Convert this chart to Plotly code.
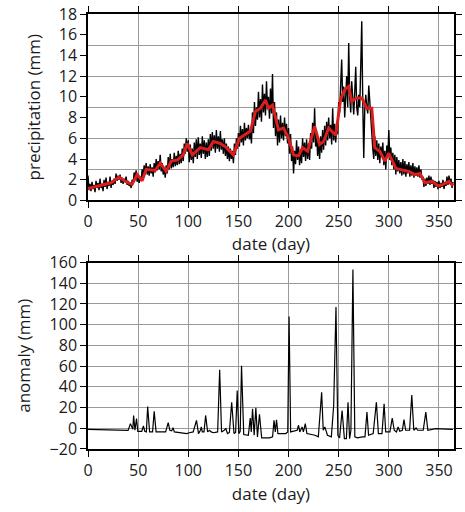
import plotly.graph_objects as go

# ---------------- data ----------------
# daily precipitation (mm), day 0..364
precip = [
    2.4, 1.0, 1.6, 0.9, 1.8, 1.1, 1.5, 0.8, 1.9, 1.2,
    1.7, 1.0, 2.1, 1.2, 1.6, 0.9, 2.0, 1.3, 2.2, 1.1,
    1.8, 1.4, 2.3, 1.2, 1.9, 1.5, 2.1, 1.6, 2.6, 1.9,
    2.4, 2.0, 2.5, 1.7, 2.2, 1.6, 2.1, 1.8, 2.3, 1.5,
    1.9, 1.4, 1.7, 1.2, 2.0, 1.6, 2.7, 2.1, 2.9, 1.8,
    2.5, 1.7, 2.3, 1.9, 3.0, 2.3, 3.4, 2.6, 3.6, 2.5,
    3.3, 2.4, 3.5, 2.6, 3.2, 2.3, 3.6, 2.7, 4.0, 2.9,
    3.8, 3.0, 4.4, 2.8, 3.6, 2.5, 3.2, 2.2, 3.4, 2.6,
    4.2, 3.0, 4.5, 3.1, 4.0, 3.2, 4.6, 3.3, 4.3, 3.4,
    4.8, 3.5, 4.5, 3.6, 5.0, 3.8, 5.5, 4.5, 6.0, 4.7,
    5.8, 3.7, 5.4, 3.9, 5.0, 3.6, 5.6, 4.2, 5.9, 4.0,
    6.1, 4.4, 5.5, 4.1, 6.2, 4.5, 5.8, 4.0, 5.6, 4.2,
    5.9, 4.3, 6.4, 4.8, 6.6, 5.0, 6.3, 4.6, 6.8, 5.0,
    6.2, 4.7, 6.7, 4.9, 5.9, 4.5, 6.0, 4.3, 5.5, 4.0,
    5.2, 3.8, 5.0, 4.0, 4.8, 3.6, 5.5, 4.4, 6.0, 5.0,
    6.5, 5.2, 7.2, 5.6, 6.9, 5.3, 7.5, 5.8, 7.0, 6.0,
    7.3, 5.9, 6.8, 5.5, 8.5, 6.5, 9.5, 7.2, 9.0, 7.8,
    10.5, 8.0, 9.8, 7.6, 11.2, 8.5, 10.3, 8.2, 11.5, 8.8,
    10.0, 7.9, 10.8, 8.4, 12.2, 7.0, 9.5, 6.2, 8.5, 5.3,
    7.8, 5.6, 8.2, 6.0, 7.5, 5.8, 8.0, 6.2, 7.4, 5.5,
    7.0, 4.5, 6.4, 3.8, 5.2, 2.6, 4.8, 3.5, 5.8, 3.9,
    5.2, 3.4, 4.9, 3.6, 6.0, 4.2, 5.6, 3.8, 5.9, 4.0,
    5.5, 3.9, 6.5, 5.0, 7.5, 5.6, 8.9, 5.2, 6.4, 4.3,
    5.8, 4.0, 6.2, 4.6, 6.8, 4.9, 7.2, 5.3, 7.6, 5.8,
    8.0, 6.0, 7.3, 5.4, 8.9, 5.8, 7.4, 5.6, 7.0, 6.4,
    9.5, 8.5, 11.3, 13.6, 9.5, 11.0, 8.0, 10.5, 12.0, 9.0,
    15.2, 10.0, 8.5, 11.5, 9.2, 8.3, 10.5, 12.9, 9.0, 8.2,
    10.2, 9.0, 13.0, 17.3, 9.5, 4.1, 8.8, 10.2, 9.0, 8.4,
    11.1, 9.4, 8.7, 6.0, 5.0, 4.0, 6.2, 4.3, 5.8, 3.9,
    5.5, 3.6, 5.2, 4.2, 5.6, 3.4, 4.8, 3.0, 5.3, 4.2,
    6.8, 3.9, 5.1, 3.4, 4.6, 3.0, 4.4, 2.5, 4.2, 2.8,
    3.9, 2.6, 3.7, 2.4, 4.0, 2.5, 3.8, 2.3, 3.5, 2.6,
    3.7, 2.3, 3.4, 2.4, 3.6, 2.2, 3.3, 2.4, 3.2, 2.3,
    3.4, 2.2, 3.0, 2.0, 2.3, 1.3, 2.1, 1.4, 2.2, 1.6,
    2.4, 1.5, 2.3, 1.6, 2.0, 1.2, 1.9, 1.3, 1.8, 1.1,
    1.9, 1.2, 1.7, 1.3, 2.0, 1.1, 1.8, 1.4, 2.3, 1.5,
    2.4, 1.6, 2.1, 1.2, 1.8,
]
days = list(range(len(precip)))

# smoothed precipitation (red curve)
smooth_days = [0, 11, 23, 31, 37, 44, 49, 54, 58, 67, 72, 78, 83, 89, 95, 99,
               104, 112, 120, 125, 132, 138, 145, 151, 158, 162, 167, 172, 177,
               180, 184, 187, 190, 195, 200, 205, 210, 214, 219, 226, 231, 235,
               240, 247, 252, 256, 260, 263, 268, 273, 278, 283, 286, 291, 296,
               300, 307, 313, 320, 326, 331, 336, 343, 349, 354, 360, 364]
smooth_vals = [1.15, 1.4, 1.7, 2.25, 1.85, 1.55, 2.5, 1.9, 3.0, 2.9, 3.6, 2.8,
               3.8, 3.9, 4.4, 5.5, 4.4, 5.1, 4.9, 5.7, 5.5, 5.1, 4.4, 6.0, 6.5,
               6.7, 8.6, 8.9, 9.7, 8.9, 9.2, 8.0, 6.8, 7.0, 6.0, 4.4, 4.3, 5.1,
               4.75, 7.15, 5.4, 5.7, 7.0, 6.3, 9.8, 10.7, 11.0, 9.55, 9.9, 9.9,
               8.9, 8.9, 5.1, 4.75, 3.8, 4.55, 3.1, 2.95, 2.8, 2.5, 2.6, 1.7,
               1.85, 1.4, 1.55, 1.85, 1.4]

# anomaly (mm)
anom_days = [0, 20, 40, 42.3, 44.7, 45.5, 46.8, 48.4, 49.7, 53.6, 55.3, 56.6,
             58.2, 59.5, 61.4, 64.4, 66.0, 67.9, 77.4, 80.0, 81.6, 83.5, 84.8,
             86.1, 98.5, 101.1, 104.9, 108.2, 110.2, 112.1, 113.0, 114.0, 115.7,
             117.3, 119.3, 121.2, 122.8, 125.1, 129.3, 131.3, 133.2, 135.8,
             137.5, 139.1, 141.0, 143.3, 145.6, 147.2, 148.8, 150.4, 151.8,
             153.1, 155.3, 159.9, 161.8, 162.8, 164.1, 165.7, 167.4, 169.0,
             171.0, 173.2, 181.0, 184.1, 185.5, 186.8, 188.0, 189.4, 197.2,
             199.2, 200.5, 202.1, 208.6, 210.0, 211.2, 213.5, 214.8, 216.7,
             218.3, 226.4, 229.7, 233.0, 234.6, 236.2, 238.8, 242.7, 245.0,
             247.3, 249.2, 250.9, 253.4, 255.7, 257.7, 259.3, 260.9, 262.2,
             264.2, 266.1, 268.7, 273.6, 276.2, 278.2, 279.8, 284.4, 287.6,
             289.6, 293.2, 295.3, 296.9, 301.1, 303.4, 305.4, 307.6, 309.3,
             310.9, 313.5, 315.1, 316.8, 320.7, 322.9, 324.9, 327.2, 328.8,
             334.3, 336.9, 338.9, 346.7, 362.9, 364]
anom_vals = [-1.0, -1.5, -2.0, 4.5, -1.0, 12.4, -1.9, 9.3, -2.9, -2.9, 2.2, -2.9,
             -3.5, 21.0, -3.5, -3.5, 16.3, -3.5, -3.5, 5.4, -1.9, -2.5, 0.6,
             -3.5, -5.1, -4.3, -3.5, 7.7, -5.1, -2.0, 1.3, -3.5, -3.5,
             12.4, -3.5, -1.9, -3.5, -4.3, -3.5, 56.5, -3.5, -1.9,
             -0.3, -5.1, -4.0, 25.2, -5.1, -4.0, 36.4, -5.1, -3.0,
             60.3, -6.0, -6.7, 9.9, -3.5, 18.8, -6.7, 19.8, -8.3,
             13.6, -9.3, -9.3, -8.3, 7.7, -3.5, 8.3, -5.1, -5.1,
             -3.5, 108.0, -3.5, -1.9, 2.9, -3.5, 1.3, -3.5, 4.5,
             -5.1, -6.7, -8.3, 34.7, -1.9, 1.3, -6.7, -8.3, 22.0,
             117.0, -6.7, -9.3, 17.2, -10.0, -10.0, 25.2, -10.0, -1.9,
             153.4, -8.3, -9.3, -8.3, -8.3, 15.6, -6.7, -5.1, 25.2,
             -5.1, -5.1, 23.6, -3.5, -3.5, 9.9, -1.9, -3.5, 1.3,
             -2.9, -1.9, 8.3, -1.9, -1.9, 32.2, -1.9, 0.3, -1.9,
             -1.9, 15.6, -1.9, -0.3, -1.0, -1.2]

x_ticks = [0, 50, 100, 150, 200, 250, 300, 350]
top_y_ticks = list(range(0, 19, 2))
bot_y_ticks = list(range(-20, 161, 20))

# ---------------- figure ----------------
FONT = "Open Sans"
GRID = "#9a9a9a"

fig = go.Figure()
fig.add_trace(go.Scatter(x=days, y=precip, mode="lines",
                         line=dict(color="black", width=1.4),
                         xaxis="x", yaxis="y", showlegend=False))
fig.add_trace(go.Scatter(x=smooth_days, y=smooth_vals, mode="lines",
                         line=dict(color="rgb(218,30,30)", width=3),
                         xaxis="x", yaxis="y3", showlegend=False))
fig.add_trace(go.Scatter(x=anom_days, y=anom_vals, mode="lines",
                         line=dict(color="black", width=1.2),
                         xaxis="x2", yaxis="y2", showlegend=False))

axis_common = dict(
    showline=True, linecolor="black", linewidth=1.5, mirror="ticks",
    ticks="outside", ticklen=6, tickcolor="black", tickwidth=1,
    gridcolor=GRID, gridwidth=1, zeroline=False,
    tickfont=dict(family=FONT, size=16, color="#1a1a1a"),
)

fig.update_layout(
    width=465, height=512,
    margin=dict(l=88, r=3, t=12, b=63),
    paper_bgcolor="white", plot_bgcolor="white",
    font=dict(family=FONT, size=17, color="#1a1a1a"),
    xaxis=dict(axis_common, range=[0, 365], tickvals=x_ticks, anchor="y",
               title=dict(text="date (day)", font=dict(size=17), standoff=6)),
    yaxis=dict(axis_common, range=[0, 18], tickvals=top_y_ticks, showgrid=False,
               domain=[0.5714, 1.0], anchor="x",
               title=dict(text="precipitation (mm)", font=dict(size=17), standoff=14)),
    yaxis3=dict(range=[0, 18], dtick=3, overlaying="y", anchor="x",
                showgrid=True, gridcolor=GRID, gridwidth=1,
                showticklabels=False, ticks="", zeroline=False, showline=False),
    xaxis2=dict(axis_common, range=[0, 365], tickvals=x_ticks, anchor="y2",
                title=dict(text="date (day)", font=dict(size=17), standoff=8)),
    yaxis2=dict(axis_common, range=[-20, 160], tickvals=bot_y_ticks,
                domain=[0.0, 0.4286], anchor="x2",
                title=dict(text="anomaly (mm)", font=dict(size=17), standoff=15)),
)

fig.write_html("out.html")
